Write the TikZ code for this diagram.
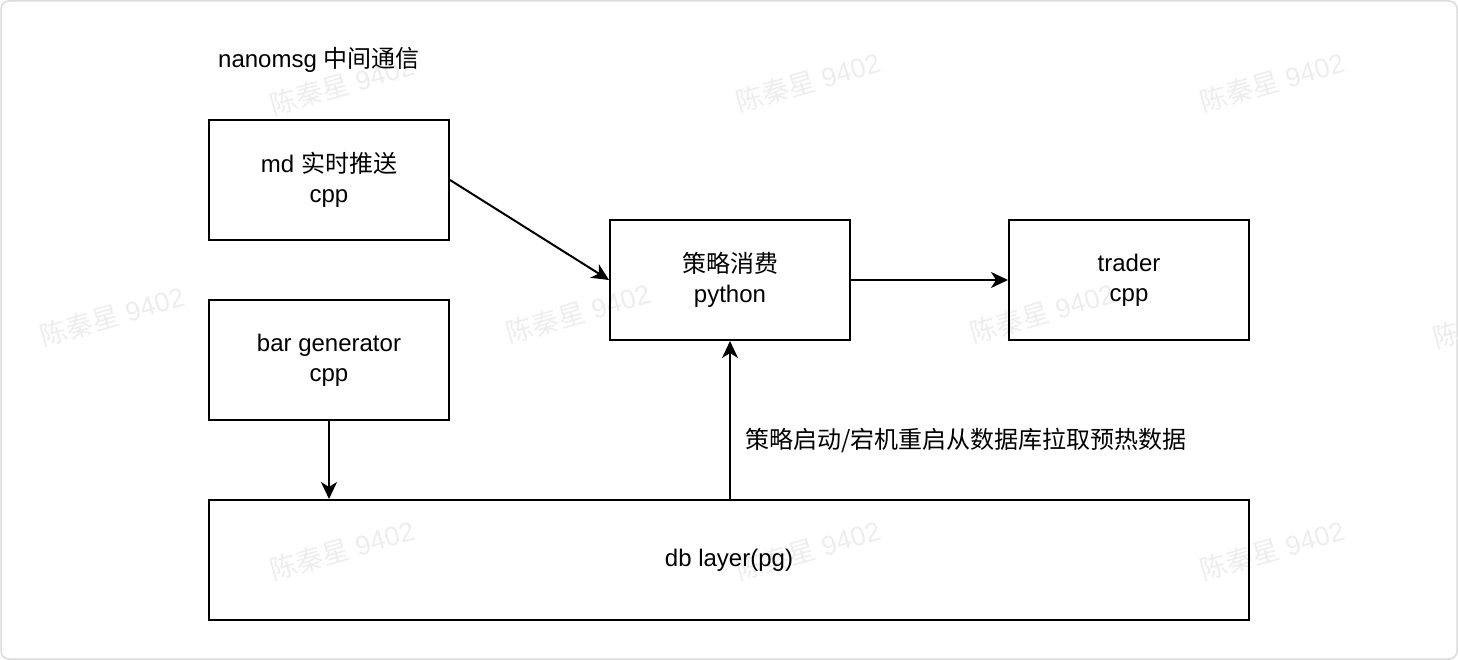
\documentclass[tikz,border=0pt]{standalone}
\usepackage{fontspec}
\setmainfont{Liberation Sans}
\newfontfamily\cjk{Noto Sans CJK SC}
\usetikzlibrary{arrows.meta}
\begin{document}
\begin{tikzpicture}[x=1pt,y=-1pt,
 box/.style={draw,line width=2pt,minimum width=240pt,minimum height=120pt,inner sep=0pt,align=center,font=\fontsize{24}{30}\selectfont},
 conn/.style={line width=2pt,-{Stealth[length=17pt,width=16pt,inset=5pt]}},
 wm/.style={text=black!7,font=\fontsize{27}{27}\selectfont,rotate=16,inner sep=0pt},
 lbl/.style={font=\fontsize{24}{30}\selectfont,anchor=west,inner sep=0pt}]
\useasboundingbox (0,0) rectangle (1458,660);
\draw[black!14,line width=1.5pt,rounded corners=8pt] (1,1) rectangle (1457,659);
% watermarks
\foreach \px/\py [count=\i] in {342/85,808/82,1272/82,112/316,578/313,1042/313,1505/318,342/550,808/550,1272/550}
  \node[wm] (wm\i) at (\px,\py) {{\cjk 陈秦星} 9402};
% nodes
\node[lbl] (title) at (218,60) {nanomsg {\cjk 中间通信}};
\node[box] (md) at (329,180) {md {\cjk 实时推送}\\cpp};
\node[box] (bar) at (329,360) {bar generator\\cpp};
\node[box] (strat) at (730,280) {{\cjk 策略消费}\\python};
\node[box] (trader) at (1129,280) {trader\\cpp};
\node[box,minimum width=1040pt] (db) at (729,560) {db layer(pg)};
\node[lbl] (note) at (745,440) {\cjk 策略启动/宕机重启从数据库拉取预热数据};
% connectors
\draw[conn] (md.east) -- (strat.west);
\draw[conn] (strat.east) -- (trader.west);
\draw[conn] (bar.south) -- (bar.south |- db.north);
\draw[conn] (strat.south |- db.north) -- (strat.south);
\end{tikzpicture}
\end{document}
